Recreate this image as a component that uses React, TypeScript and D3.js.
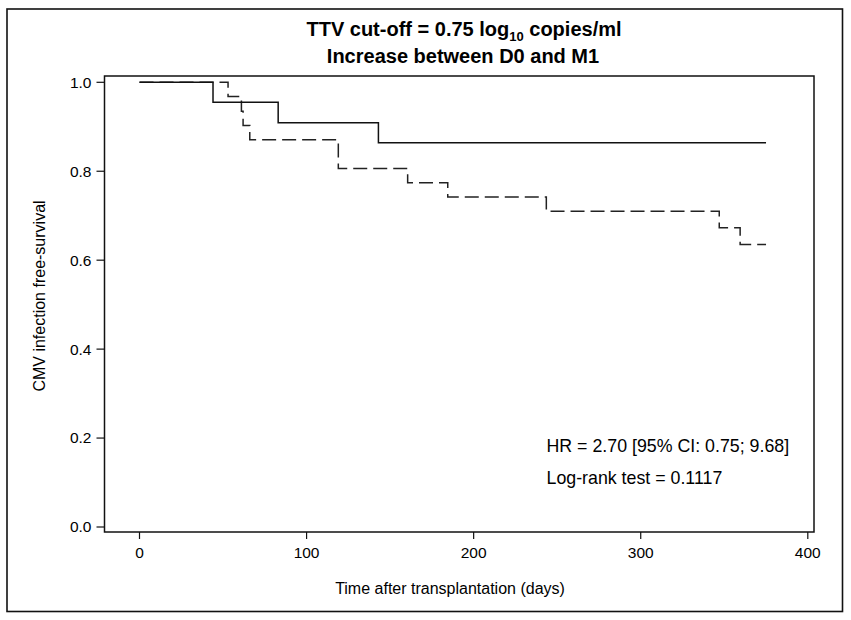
import React from "react";
import * as d3 from "d3";

// Kaplan-Meier step data
const solidTimes = [0, 44, 83, 143, 375];
const solidSurv = [1, 0.955, 0.909, 0.864, 0.864];

const dashedTimes = [0, 53, 61, 62, 66, 119, 160.5, 184.5, 243.5, 347, 359.5, 375];
const dashedSurv = [1, 0.968, 0.935, 0.903, 0.871, 0.806, 0.774, 0.742, 0.71, 0.673, 0.635, 0.635];

const xTicks = [0, 100, 200, 300, 400];
const yTicks = [0, 0.2, 0.4, 0.6, 0.8, 1.0];

const titleLine1 = "TTV cut-off = 0.75 log";
const titleSub = "10";
const titleLine1End = " copies/ml";
const titleLine2 = "Increase between D0 and M1";
const xLabel = "Time after transplantation (days)";
const yLabel = "CMV infection free-survival";
const notes = ["HR = 2.70 [95% CI: 0.75; 9.68]", "Log-rank test = 0.1117"];

const W = 851;
const H = 620;
const box = { left: 104.5, top: 76, right: 814, bottom: 532 };
const font = "'Liberation Sans', Arial, Helvetica, sans-serif";

const App: React.FC = () => {
  const x = d3.scaleLinear().domain([0, 400]).range([139.5, 807.8]);
  const y = d3.scaleLinear().domain([0, 1]).range([527, 82.3]);

  const line = d3
    .line<[number, number]>()
    .x(d => x(d[0]))
    .y(d => y(d[1]))
    .curve(d3.curveStepAfter);

  const solid = solidTimes.map((t, i) => [t, solidSurv[i]] as [number, number]);
  const dashed = dashedTimes.map((t, i) => [t, dashedSurv[i]] as [number, number]);

  return (
    <svg
      width={W}
      height={H}
      style={{ position: "absolute", left: 0, top: 0, background: "#fff" }}
      fontFamily={font}
    >
      <rect x={0} y={0} width={W} height={H} fill="#fff" />
      {/* outer frame */}
      <rect x={7} y={9} width={835.5} height={602.5} fill="none" stroke="#111" strokeWidth={1.6} />

      {/* title */}
      <text x={464} y={36} textAnchor="middle" fontSize={20} fontWeight="bold" fill="#000">
        {titleLine1}
        <tspan fontSize={13} dy={5}>{titleSub}</tspan>
        <tspan dy={-5}>{titleLine1End}</tspan>
      </text>
      <text x={463} y={63} textAnchor="middle" fontSize={20} fontWeight="bold" fill="#000">
        {titleLine2}
      </text>

      {/* plot box */}
      <rect
        x={box.left}
        y={box.top}
        width={box.right - box.left}
        height={box.bottom - box.top}
        fill="none"
        stroke="#111"
        strokeWidth={1.5}
      />

      {/* y axis ticks */}
      {yTicks.map(t => (
        <g key={`y${t}`}>
          <line x1={box.left - 8} x2={box.left} y1={y(t)} y2={y(t)} stroke="#111" strokeWidth={1.2} />
          <text x={box.left - 13} y={y(t)} dy="0.35em" textAnchor="end" fontSize={15.5} fill="#000">
            {t.toFixed(1)}
          </text>
        </g>
      ))}

      {/* x axis ticks */}
      {xTicks.map(t => (
        <g key={`x${t}`}>
          <line x1={x(t)} x2={x(t)} y1={box.bottom} y2={box.bottom + 7} stroke="#111" strokeWidth={1.2} />
          <text x={x(t)} y={558} textAnchor="middle" fontSize={15.5} fill="#000">
            {t}
          </text>
        </g>
      ))}

      {/* axis labels */}
      <text x={450} y={594} textAnchor="middle" fontSize={16} fill="#000">
        {xLabel}
      </text>
      <text
        transform="translate(45,296) rotate(-90)"
        textAnchor="middle"
        fontSize={16}
        fill="#000"
      >
        {yLabel}
      </text>

      {/* curves */}
      <path d={line(dashed) ?? ""} fill="none" stroke="#222" strokeWidth={1.5} strokeDasharray="14 6" />
      <path d={line(solid) ?? ""} fill="none" stroke="#111" strokeWidth={1.5} />

      {/* annotations */}
      {notes.map((n, i) => (
        <text key={n} x={546.5} y={452 + i * 32} fontSize={17.8} fill="#000">
          {n}
        </text>
      ))}
    </svg>
  );
};

export default App;
